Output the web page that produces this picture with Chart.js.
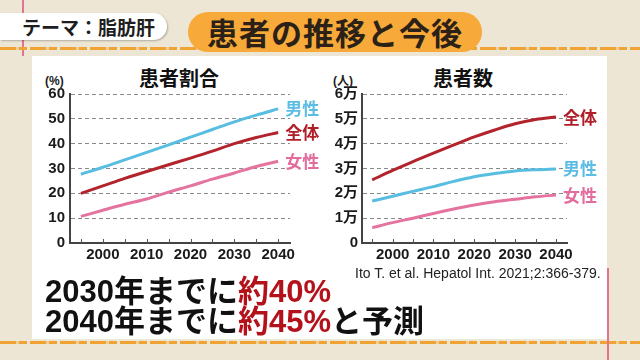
<!DOCTYPE html>
<html><head><meta charset="utf-8">
<script src="https://cdn.jsdelivr.net/npm/chart.js@4/dist/chart.umd.min.js"></script>
<style>
html,body{margin:0;padding:0;}
body{width:640px;height:360px;position:relative;overflow:hidden;background:#ede6d5;font-family:'Liberation Sans','Noto Sans CJK JP',sans-serif;}
.abs{position:absolute;}
.dash{position:absolute;left:0;width:640px;height:3px;background:repeating-linear-gradient(90deg,#f0a232 0 16px,rgba(240,162,50,0.35) 16px 19px,#f0a232 19px 27px,transparent 27px 30px);}
.pink{position:absolute;width:2px;background:#e27490;}
#panel{left:32px;top:56px;width:575px;height:283px;background:#fff;}
#tag{left:0;top:13px;width:145px;height:27px;padding-left:22px;background:#fff;border-radius:0 14px 14px 0;box-shadow:1px 1px 2px rgba(0,0,0,0.25);font:bold 19px 'Noto Sans CJK JP';line-height:27px;color:#1e1e1e;white-space:nowrap;}
#pill{left:188px;top:12px;width:294px;height:40px;border-radius:20px;background:#f7a93a;font:bold 31px 'Noto Sans CJK JP';line-height:40px;color:#2b2117;text-align:center;letter-spacing:1px;white-space:nowrap;}
.ctitle{font:bold 20px 'Noto Sans CJK JP';line-height:20px;color:#111;text-align:center;width:120px;white-space:nowrap;}
.unit{font:bold 12px 'Liberation Sans','Noto Sans CJK JP';line-height:12px;color:#222;white-space:nowrap;}
canvas{position:absolute;}
.big{left:45px;font:bold 31px 'Liberation Sans','Noto Sans CJK JP';line-height:31px;color:#111;white-space:nowrap;}
.red{color:#b3121b;}
#cite{left:355px;top:266px;font:14px 'Liberation Sans Narrow','Liberation Sans';line-height:14px;color:#222;white-space:nowrap;}
</style></head>
<body>
<div class="pink" style="left:22px;top:0;height:56px;"></div>
<div class="dash" style="top:47px;"></div>
<div id="panel" class="abs"></div>
<div class="dash" style="top:341px;"></div>
<div class="pink" style="left:607px;top:268px;height:92px;"></div>
<div id="tag" class="abs">テーマ：脂肪肝</div>
<div id="pill" class="abs">患者の推移と今後</div>

<div class="abs ctitle" style="left:119px;top:68px;">患者割合</div>
<div class="abs unit" style="left:45px;top:75px;">(%)</div>
<div class="abs ctitle" style="left:403px;top:68px;">患者数</div>
<div class="abs unit" style="left:333px;top:75px;">(人)</div>

<canvas id="c1" width="300" height="205" style="left:30px;top:60px;"></canvas>
<canvas id="c2" width="300" height="205" style="left:320px;top:60px;"></canvas>

<div id="cite" class="abs">Ito T. et al. Hepatol Int. 2021;2:366-379.</div>
<div class="abs big" style="top:276px;">2030年までに<span class="red">約40%</span></div>
<div class="abs big" style="top:306px;">2040年までに<span class="red">約45%</span>と予測</div>

<script>
// ---- data ----
const years = [1995, 2000, 2005, 2010, 2015, 2020, 2025, 2030, 2035, 2040];
const seriesNames = ['男性', '全体', '女性'];
const rateMale   = [27.7, 30.5, 33.5, 36.5, 39.5, 42.6, 45.7, 48.8, 51.5, 54.0];
const rateTotal  = [20.0, 23.0, 26.0, 28.8, 31.5, 34.2, 37.0, 40.0, 42.5, 44.5];
const rateFemale = [10.7, 13.2, 15.6, 17.7, 20.5, 23.0, 25.7, 28.2, 30.8, 32.9];
const countTotal  = [25400, 29200, 32800, 36200, 39500, 42700, 45500, 48000, 49700, 50700];
const countMale   = [16900, 18800, 20800, 22700, 24800, 26700, 28000, 29000, 29500, 29800];
const countFemale = [6200, 8200, 10000, 11900, 13700, 15300, 16600, 17600, 18600, 19300];
const xTickLabels = ['2000', '2010', '2020', '2030', '2040'];
const rateTicks = [0, 10, 20, 30, 40, 50, 60];
const countTickLabels = ['0', '1万', '2万', '3万', '4万', '5万', '6万'];

const COL = {'男性': '#57bde1', '全体': '#b3232b', '女性': '#e5739f'};
const LCOL = {'男性': '#5bbde3', '全体': '#b01e28', '女性': '#e26c9b'};

const pts = arr => arr.map((v, i) => ({x: years[i], y: v}));
const ds = (name, arr) => ({label: name, data: pts(arr), borderColor: COL[name], borderWidth: 3,
  pointRadius: 0, cubicInterpolationMode: 'monotone', fill: false, labelColor: LCOL[name]});

const endLabels = {
  id: 'endLabels',
  afterDatasetsDraw(chart) {
    const ctx = chart.ctx;
    ctx.save();
    ctx.font = "bold 17px 'Noto Sans CJK JP'";
    ctx.textBaseline = 'middle';
    ctx.textAlign = 'left';
    chart.data.datasets.forEach((d, i) => {
      const meta = chart.getDatasetMeta(i);
      const p = meta.data[meta.data.length - 1];
      ctx.fillStyle = d.labelColor;
      ctx.fillText(d.label, p.x + 7, p.y);
    });
    ctx.restore();
  }
};
const innerTicks = {
  id: 'innerTicks',
  afterDraw(chart) {
    const xs = chart.scales.x, ctx = chart.ctx;
    const b = chart.chartArea.bottom;
    ctx.save();
    ctx.strokeStyle = '#555';
    ctx.lineWidth = 1;
    xs.ticks.forEach(t => {
      const px = Math.round(xs.getPixelForValue(t.value)) + 0.5;
      ctx.beginPath(); ctx.moveTo(px, b); ctx.lineTo(px, b - 4); ctx.stroke();
    });
    ctx.restore();
  }
};

function makeChart(id, datasets, yMax, yStep, yLabel, pad, yW, yPad) {
  return new Chart(document.getElementById(id), {
    type: 'line',
    data: {datasets},
    plugins: [endLabels, innerTicks],
    options: {
      responsive: false, animation: false, devicePixelRatio: 1,
      layout: {padding: pad},
      plugins: {legend: {display: false}, tooltip: {enabled: false}},
      scales: {
        x: {type: 'linear', min: 1992.5, max: 2042.7,
          afterFit: s => { s.height = 20; },
          grid: {display: false, drawTicks: false},
          border: {display: true, color: '#444', width: 2},
          ticks: {stepSize: 5, includeBounds: false, autoSkip: false, maxRotation: 0, padding: 3,
            color: '#1a1a1a', font: {size: 15, weight: 'bold', family: "'Liberation Sans'"},
            callback: v => { const i = xTickLabels.indexOf(String(v)); return i >= 0 ? xTickLabels[i] : ''; }}
        },
        y: {min: 0, max: yMax,
          afterFit: s => { s.width = yW; },
          grid: {drawTicks: false, lineWidth: 1, borderDash: [4, 3],
            color: c => c.tick && c.tick.value === 0 ? 'rgba(0,0,0,0)' : '#8a8a8a'},
          border: {display: true, color: '#444', width: 2, dash: [4, 3]},
          ticks: {stepSize: yStep, padding: yPad, color: '#1a1a1a',
            font: {size: 15, weight: 'bold', family: "'Liberation Sans','Noto Sans CJK JP'"},
            callback: yLabel}
        }
      }
    }
  });
}

makeChart('c1', [ds('男性', rateMale), ds('全体', rateTotal), ds('女性', rateFemale)],
  60, 10, v => String(rateTicks[Math.round(v / 10)]), {left: 4, top: 34, right: 40, bottom: 2}, 36, 5);
makeChart('c2', [ds('全体', countTotal), ds('男性', countMale), ds('女性', countFemale)],
  60000, 10000, v => countTickLabels[Math.round(v / 10000)], {left: 2, top: 34, right: 53, bottom: 2}, 40, 4);
</script>
</body></html>
